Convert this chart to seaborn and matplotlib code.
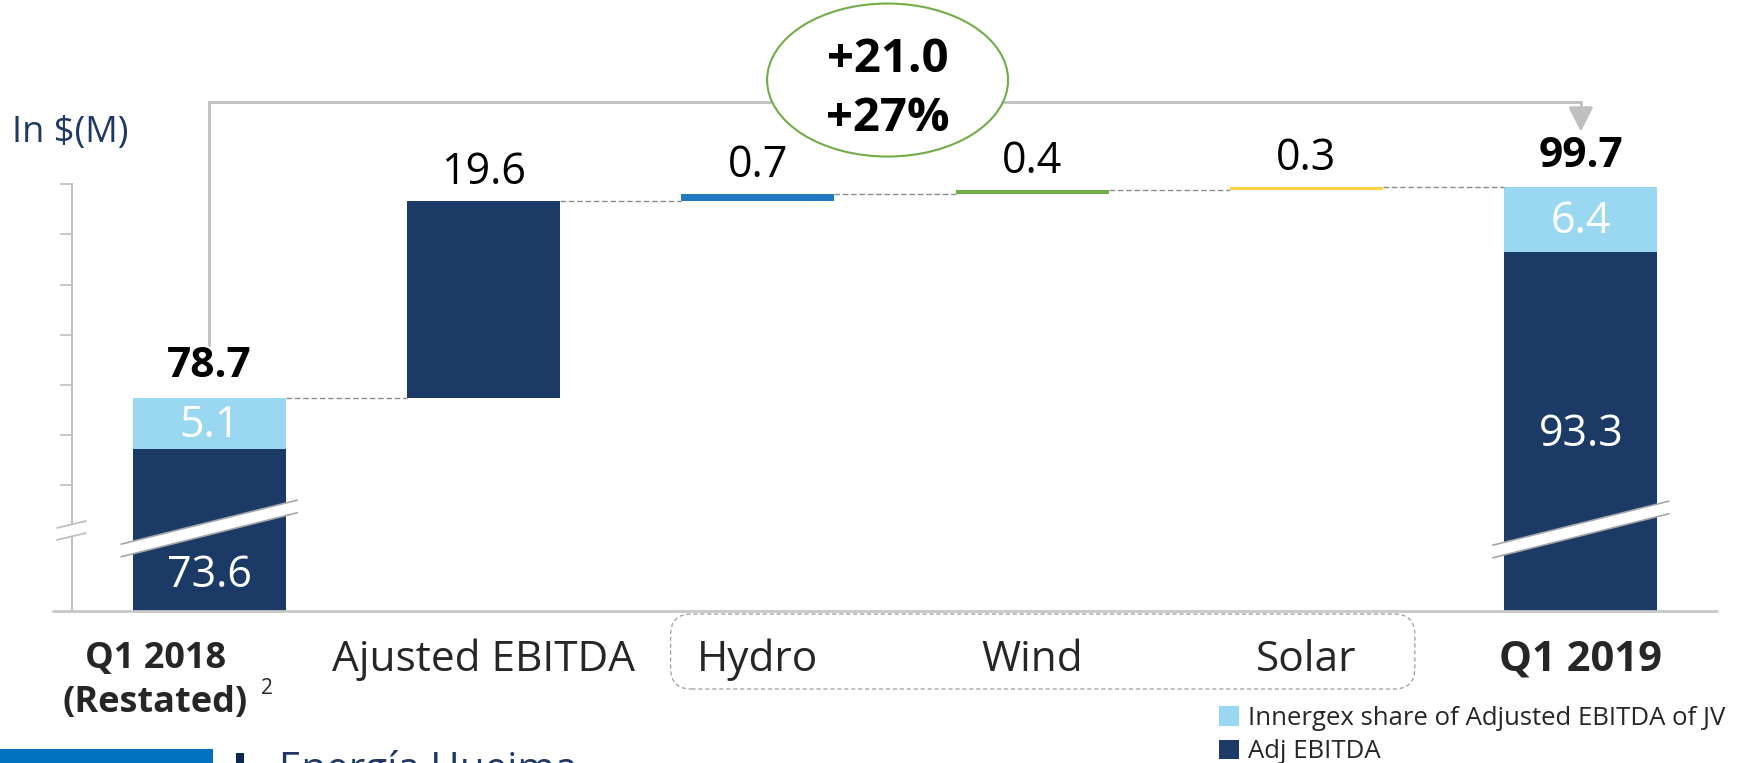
import numpy as np
import pandas as pd
import matplotlib
matplotlib.use("Agg")
import matplotlib.pyplot as plt
import seaborn as sns
from matplotlib.patches import Ellipse, Polygon, FancyBboxPatch, Rectangle

# ---------------- data ----------------
categories = ["Q1 2018", "Ajusted EBITDA", "Hydro", "Wind", "Solar", "Q1 2019"]
total_cats = ["Q1 2018", "Q1 2019"]
adj_ebitda = [73.6, 93.3]
jv_share = [5.1, 6.4]
delta_cats = ["Ajusted EBITDA", "Hydro", "Wind", "Solar"]
delta_values = [19.6, 0.7, 0.4, 0.3]
legend_labels = ["Innergex share of Adjusted EBITDA of JV", "Adj EBITDA"]
unit_label = "In $(M)"
footer_text = "Energía Hueima"
first_label = "Q1 2018\n(Restated)"
footnote = "2"
tick_vals = [70, 75, 80, 85, 90, 95, 100]

# ---------------- style ----------------
NAVY = "#1B3A65"
LIGHT = "#99D8F0"
DELTA_COLORS = ["#1B3A65", "#1F7AC2", "#70AD47", "#FFD23F"]
GREY = "#BFBFBF"
DASH = "#8C8C8C"
TXT_NAVY = "#1F3864"
W = 0.558

sns.set_theme(style="white")
plt.rcParams["font.family"] = ["Open Sans", "DejaVu Sans"]

FW, FH = 1737, 763
fig = plt.figure(figsize=(FW / 100, FH / 100), dpi=100)
AX_L, AX_R, AX_B, AX_T = 72, 1718, 611, 0
ax = fig.add_axes([AX_L / FW, (FH - AX_B) / FH, (AX_R - AX_L) / FW, (AX_B - AX_T) / FH])

YLO, YHI = 57.46, 118.38
PXX = (AX_R - AX_L) / len(categories)     # px per category unit
PXY = (AX_B - AX_T) / (YHI - YLO)         # px per value unit

totals = [a + b for a, b in zip(adj_ebitda, jv_share)]
df_tot = pd.DataFrame({"cat": total_cats, "adj": adj_ebitda, "jv": jv_share})

bar_kw = dict(order=categories, width=W, saturation=1, errorbar=None, linewidth=0,
              edgecolor="none", ax=ax)
sns.barplot(data=df_tot, x="cat", y="adj", color=NAVY, label=legend_labels[1], **bar_kw)
sns.barplot(data=df_tot, x="cat", y="jv", color=LIGHT, bottom=df_tot["adj"].values,
            label=legend_labels[0], **bar_kw)

bottoms = totals[0] + np.cumsum(delta_values) - np.array(delta_values)
for cat, v, b, col in zip(delta_cats, delta_values, bottoms, DELTA_COLORS):
    sns.barplot(x=[cat], y=[v], color=col, bottom=b, **bar_kw)

if ax.get_legend() is not None:
    ax.get_legend().remove()

ax.set_xlim(-0.5, len(categories) - 0.5)
ax.set_ylim(YLO, YHI)
ax.set_xlabel("")
ax.set_ylabel("")

# axes / ticks
for s in ["top", "right", "bottom"]:
    ax.spines[s].set_visible(False)
ax.spines["left"].set_color(GREY)
ax.spines["left"].set_linewidth(1.5)
ax.spines["left"].set_bounds(YLO, tick_vals[-1])
ax.set_yticks(tick_vals)
ax.set_yticklabels([])
ax.tick_params(axis="y", left=True, length=8.6, width=1.2, color=GREY, direction="out")
ax.tick_params(axis="x", bottom=False, labelbottom=False)
ax.plot([-0.5 - 20 / PXX, len(categories) - 0.5], [YLO, YLO], color="#C8C8C8", lw=2,
        clip_on=False, zorder=5, solid_capstyle="butt")

pos = {c: i for i, c in enumerate(categories)}
half = W / 2

# connectors (dashed)
tops = [totals[0]] + list(totals[0] + np.cumsum(delta_values))
for i in range(len(categories) - 1):
    y = tops[i]
    ax.plot([pos[categories[i]] + half, pos[categories[i + 1]] - half], [y, y],
            color=DASH, lw=1, ls=(0, (4, 2)), zorder=1)

# value labels
lab_kw = dict(textcoords="offset points", ha="center", va="center", color="black")
for cat, tot in zip(total_cats, totals):
    ax.annotate(f"{tot:.1f}", (pos[cat], tot), xytext=(0, 22.5), fontsize=30.5,
                fontweight="bold", **lab_kw)
for cat, v, b in zip(delta_cats, delta_values, bottoms):
    ax.annotate(f"{v:.1f}", (pos[cat], b + v), xytext=(0, 20.5), fontsize=31, **lab_kw)
for cat, a, j in zip(total_cats, adj_ebitda, jv_share):
    ax.text(pos[cat], a + j / 2 - 0.2, f"{j:.1f}", ha="center", va="center",
            fontsize=31, color="white", zorder=6)
dark_label_y = [61.0, 75.06]
for cat, a, yl in zip(total_cats, adj_ebitda, dark_label_y):
    ax.text(pos[cat], yl, f"{a:.1f}", ha="center", va="center", fontsize=31,
            color="white", zorder=6)

# break marks on bars
def bar_break(xc, yc):
    hw = 88 / PXX
    rise = 22 / PXY
    th = 6.3 / PXY
    xl, xr = xc - hw, xc + hw
    ax.add_patch(Polygon([(xl, yc - rise - th), (xr, yc + rise - th), (xr, yc + rise + th),
                          (xl, yc - rise + th)], closed=True, facecolor="white",
                         edgecolor="none", zorder=4, clip_on=False))
    for sgn in (-1, 1):
        ax.plot([xl, xr], [yc - rise + sgn * th, yc + rise + sgn * th], color="#A6A6A6",
                lw=1.2, zorder=4.5, clip_on=False)

bar_break(pos[total_cats[0]], 65.69)
bar_break(pos[total_cats[1]], 65.59)

# axis break
yb = 65.49
xa = -0.5
dxl, dxr = 15 / PXX, 14 / PXX
r = 3.5 / PXY
t = 6 / PXY
ax.add_patch(Polygon([(xa - dxl, yb - r - t), (xa + dxr, yb + r - t), (xa + dxr, yb + r + t),
                      (xa - dxl, yb - r + t)], closed=True, facecolor="white",
                     edgecolor="none", zorder=6, clip_on=False))
for sgn in (-1, 1):
    ax.plot([xa - dxl, xa + dxr], [yb - r + sgn * t, yb + r + sgn * t], color=GREY,
            lw=1.3, zorder=7, clip_on=False)

# bracket with arrow
x0, x1 = pos[total_cats[0]], pos[total_cats[1]]
y_start = totals[0] + 5.28
y_top = totals[1] + 8.51
y_tip = totals[1] + 5.56
y_head = totals[1] + 7.12
ax.plot([x0, x0, x1, x1], [y_start, y_top, y_top, y_head], color=GREY, lw=2,
        zorder=2, clip_on=False, solid_joinstyle="miter")
ax.annotate("", xy=(x1, y_tip), xytext=(x1, y_head + 0.3),
            arrowprops=dict(arrowstyle="-|>,head_length=0.75,head_width=0.38",
                            color=GREY, lw=2, shrinkA=0, shrinkB=0,
                            mutation_scale=20), zorder=2)

# ellipse and change text
diff = totals[1] - totals[0]
pct = diff / totals[0] * 100
ex, ey = 2.473, 110.40
ax.add_patch(Ellipse((ex, ey), 241 / PXX, 153 / PXY, facecolor="white",
                     edgecolor="#70AD47", lw=1.5, zorder=3, clip_on=False))
ax.text(ex, 112.40, f"+{diff:.1f}", ha="center", va="center", fontsize=34,
        fontweight="bold", color="black", zorder=4)
ax.text(ex, 106.6, f"+{pct:.0f}%", ha="center", va="center", fontsize=34,
        fontweight="bold", color="black", zorder=4)

# unit label
fig.text(70 / FW, 1 - 133 / FH, unit_label, ha="center", va="center", fontsize=26,
         color=TXT_NAVY)

# category labels
xt = ax.get_xaxis_transform()
ax.text(pos[categories[0]] - 54 / PXX, (AX_B - 681) / (AX_B - AX_T), first_label,
        transform=xt, ha="center", va="center", fontsize=26, fontweight="bold",
        linespacing=1.3, multialignment="center")
ax.text(pos[categories[0]] + 58 / PXX, (AX_B - 689) / (AX_B - AX_T), footnote,
        transform=xt, ha="center", va="center", fontsize=15)
for cat in categories[1:]:
    fw = "bold" if cat == categories[-1] else "normal"
    ax.text(pos[cat], (AX_B - 660) / (AX_B - AX_T), cat, transform=xt, ha="center",
            va="center", fontsize=30.5 if fw == "normal" else 30, fontweight=fw)

# dashed rounded box around Hydro / Wind / Solar
fig.canvas.draw()
p0 = ax.transData.transform((pos["Hydro"] - 0.318, YLO))
p1 = ax.transData.transform((pos["Solar"] + 0.395, YLO))
bx0, bx1 = p0[0] / FW, p1[0] / FW
by1 = (FH - 614) / FH
by0 = (FH - 689) / FH
fig.patches.append(FancyBboxPatch((bx0, by0), bx1 - bx0, by1 - by0,
                                  boxstyle="round,pad=0,rounding_size=0.012",
                                  mutation_aspect=FW / FH, transform=fig.transFigure,
                                  facecolor="none", edgecolor="#A6A6A6", lw=1,
                                  ls=(0, (3, 2)), figure=fig))

# legend
h, l = ax.get_legend_handles_labels()
hm = dict(zip(l, h))
fig.legend([hm[legend_labels[0]], hm[legend_labels[1]]], legend_labels,
           loc="upper left", bbox_to_anchor=(1219 / FW, 1 - 706 / FH), frameon=False,
           fontsize=18.5, handlelength=0.78, handleheight=0.78, handletextpad=0.35,
           labelspacing=0.33, borderpad=0, borderaxespad=0)

# footer
fig.patches.append(Rectangle((0, 0), 213 / FW, 14 / FH, transform=fig.transFigure,
                             facecolor="#0070C0", edgecolor="none", figure=fig))
fig.patches.append(Rectangle((236 / FW, 0), 8 / FW, 10 / FH, transform=fig.transFigure,
                             facecolor="#0B2A52", edgecolor="none", figure=fig))
fig.text(279 / FW, (FH - 781) / FH, footer_text, ha="left", va="baseline",
         fontsize=29, color=TXT_NAVY)

fig.savefig("out.png", dpi=100)
